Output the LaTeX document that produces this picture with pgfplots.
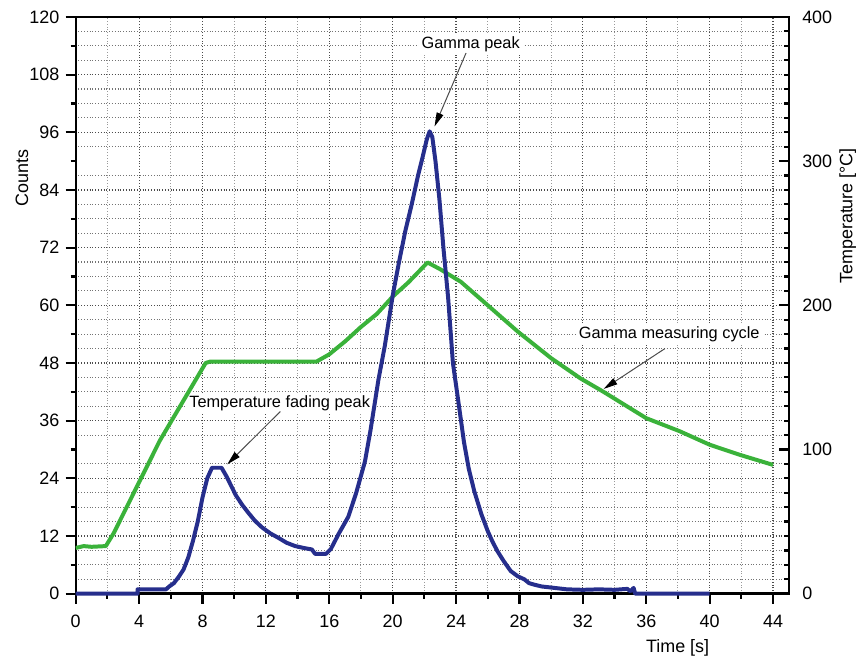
\documentclass[border=0pt]{standalone}
\usepackage{fontspec}
\setmainfont{Liberation Sans}
\usepackage{pgfplots}
\usepackage{pgfplotstable}
\pgfplotsset{compat=1.18}
\usetikzlibrary{arrows.meta}

\definecolor{cntblue}{RGB}{38,46,140}
\definecolor{tempgreen}{RGB}{58,178,58}

% counts (gamma detector)
\pgfplotstableread{
t c
0 0
3.9 0
3.9 0.9
5.7 0.9
5.9 1.5
6.2 2.2
6.5 3.5
6.8 5
7.1 7.5
7.4 11
7.7 15
8.0 20
8.3 24
8.6 26.2
9.2 26.2
9.5 24.5
9.8 22.5
10.1 20.5
10.5 18.5
10.9 16.8
11.3 15.2
11.75 13.8
12.3 12.5
12.8 11.6
13.3 10.6
13.85 9.9
14.4 9.5
14.9 9.2
15.1 8.3
15.8 8.3
16.1 9.3
16.6 12.5
17.2 16
17.7 21
18.25 27.5
18.6 34
19.1 44.5
19.5 51.5
20.0 62
20.4 69
20.8 75.5
21.2 81
21.6 87
21.9 91
22.15 94.5
22.33 96.2
22.5 95
22.7 90
22.95 82
23.2 72
23.5 61.5
23.8 48
24.1 41
24.5 31.5
24.8 26
25.15 21.3
25.6 16.5
26.0 13
26.3 10.8
26.6 8.9
27.0 6.8
27.45 4.7
27.9 3.6
28.3 3
28.6 2.2
28.9 1.9
29.4 1.5
30.2 1.2
31 0.9
32 0.8
33 0.9
34 0.8
34.8 1.0
35.0 0.5
35.2 1.2
35.3 0
40 0
}\countsdata

% temperature cycle
\pgfplotstableread{
t T
0 31.7
0.5 33
1.0 32.5
1.9 33
2.4 42
5.3 106
8.2 160
8.5 161
15.2 161
16 166
17 175
18 185
19 194
20 206
21 216
22.2 229.7
23 225
24.3 216.3
26 200
27.9 181.7
30 163.3
31.85 149.3
33.3 140
36 121.7
38.1 112.7
40 103.3
41.9 96.3
44 89.3
}\tempdata

\begin{document}
\fontsize{9pt}{11pt}\selectfont
\begin{tikzpicture}
\pgfplotsset{
  set layers,
  every axis/.append style={
    scale only axis, width=358pt, height=289.5pt,
    xmin=0, xmax=45,
    axis line style={line width=1.2pt},
    /pgf/number format/assume math mode=true,
    tick style={line width=1.1pt, black},
    major tick length=5pt, minor tick length=2.5pt,
    tick label style={font=\fontsize{9pt}{11pt}\selectfont},
    label style={font=\fontsize{9pt}{11pt}\selectfont},
  },
}

% right axis: temperature
\begin{axis}[
  name=temp,
  hide x axis,
  axis y line*=right,
  ymin=0, ymax=400,
  ytick={0,100,...,400},
  minor y tick num=9,
  tick align=inside,
  yticklabel style={xshift=3.5pt},
  yminorgrids=true,
  minor grid style={densely dotted, black!55, line width=0.55pt},
  ylabel={Temperature [°C]},
  ylabel style={at={(axis description cs:1,0.655)}, anchor=center, rotate=0, yshift=-29.5pt},
]
\addplot[tempgreen, line width=2pt, line join=round] table[x=t, y=T] {\tempdata};
\end{axis}

% left axis: counts
\begin{axis}[
  name=cnt,
  ymin=0, ymax=120,
  ytick={0,12,...,120},
  minor y tick num=1,
  xtick={0,4,...,44},
  minor x tick num=1,
  xtick pos=bottom, ytick pos=left,
  tick align=outside,
  xticklabel style={yshift=-2.5pt},
  xmajorgrids, xminorgrids, ymajorgrids,
  major grid style={densely dotted, black!70, line width=0.6pt},
  minor grid style={densely dotted, black!40, line width=0.5pt},
  ylabel={Counts},
  ylabel style={at={(axis description cs:0,0.72)}, anchor=center, yshift=27pt},
  xlabel={Time [s]},
  xlabel style={at={(axis description cs:0.844,0)}, anchor=center, yshift=-27pt},
  clip=false,
]
\addplot[cntblue, line width=2pt, line join=round] table[x=t, y=c] {\countsdata};

\tikzset{ann/.style={fill=white, inner sep=1.5pt, font=\fontsize{8.2pt}{10pt}\selectfont},
         annarrow/.style={gray!60!black, line width=0.5pt, -{Triangle[length=7pt,width=3.5pt,color=black]}}}

% annotations sit below the curves, above the grid
\begin{pgfonlayer}{pre main}
\node[ann] at (axis cs:24.92,114.4) {Gamma peak};
\draw[annarrow] (axis cs:24.63,112.5) -- (axis cs:22.64,97.2);

\node[ann] at (axis cs:12.87,39.6) {Temperature fading peak};
\draw[annarrow] (axis cs:12.91,37.9) -- (axis cs:9.56,26.9);

\node[ann] at (axis cs:37.45,54.0) {Gamma measuring cycle};
\draw[annarrow] (axis cs:37.18,51.0) -- (axis cs:33.31,42.6);
\end{pgfonlayer}
\end{axis}

\path ([shift={(-38pt,-32.5pt)}]cnt.south west) rectangle ([shift={(35pt,8.5pt)}]cnt.north east);
\end{tikzpicture}
\end{document}
